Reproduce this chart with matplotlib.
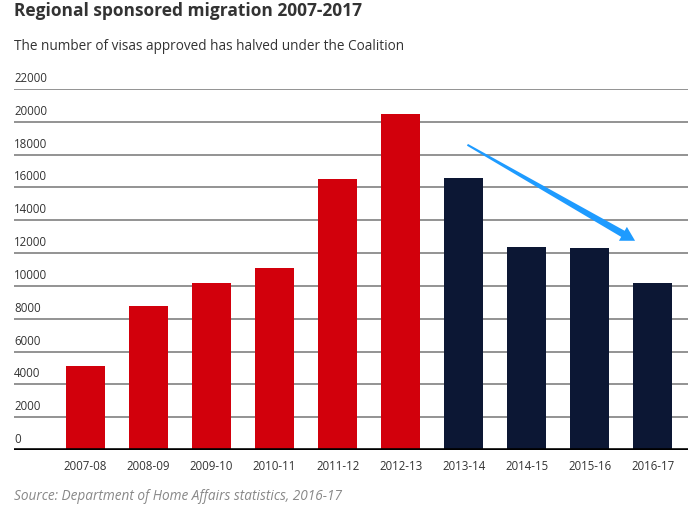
import numpy as np
import matplotlib.pyplot as plt
import matplotlib.transforms as mtransforms
from matplotlib.patches import Polygon

# Data
years = ['2007-08', '2008-09', '2009-10', '2010-11', '2011-12',
         '2012-13', '2013-14', '2014-15', '2015-16', '2016-17']
visas = [5100, 8800, 10200, 11100, 16500, 20500, 16550, 12400, 12300, 10200]
colors = ['#d2000c'] * 6 + ['#0c1734'] * 4
yticks = [0, 2000, 4000, 6000, 8000, 10000, 12000, 14000, 16000, 18000, 20000, 22000]

plt.rcParams['font.family'] = ['Open Sans', 'DejaVu Sans']

fig = plt.figure(figsize=(6.94, 5.15), dpi=100)
ax = fig.add_axes([14 / 694, 65 / 515, 674 / 694, 361 / 515])

x = list(range(len(years)))
ax.bar(x, visas, width=0.62, color=colors, zorder=3)

ax.set_xlim(-1.135, 9.56)
ax.set_ylim(0, 22000)

# grid lines with labels sitting above them
for v in yticks[1:]:
    ax.axhline(v, color='#808080', linewidth=1.2, zorder=1)
ax.axhline(0, color='black', linewidth=2.6, zorder=4)
trans = mtransforms.blended_transform_factory(ax.transAxes, ax.transData)
offset = mtransforms.offset_copy(trans, fig=fig, y=4, units='dots')
for v in yticks:
    ax.text(0, v, str(v), transform=offset, ha='left', va='bottom',
            fontsize=8.3, color='#333333')

ax.set_yticks([])
ax.set_xticks(x)
ax.set_xticklabels(years, fontsize=8.3, color='#333333')
ax.tick_params(axis='x', length=0, pad=7)
for s in ax.spines.values():
    s.set_visible(False)

# trend arrow: thin at the start, widening toward the head
start = ax.transData.transform((6.06, 18600))
tip = ax.transData.transform((8.72, 12750))
u = (tip - start) / np.hypot(*(tip - start))
n = np.array([-u[1], u[0]])
base = tip - u * 14
pts = [start + n * 1.0, base + n * 3.5, base + n * 8, tip,
       base - n * 8, base - n * 3.5, start - n * 1.0]
arrow = Polygon(pts, closed=True, facecolor='#1e9bff', edgecolor='none',
                transform=mtransforms.IdentityTransform(), zorder=5)
fig.add_artist(arrow)

fig.text(14 / 694, 1 - 11 / 515, 'Regional sponsored migration 2007-2017',
         fontsize=12.5, fontweight='bold', color='#333333', va='center', ha='left')
fig.text(14 / 694, 1 - 47 / 515, 'The number of visas approved has halved under the Coalition',
         fontsize=9.8, color='#333333', va='center', ha='left')
fig.text(14 / 694, 1 - 496 / 515, 'Source: Department of Home Affairs statistics, 2016-17',
         fontsize=9.8, style='italic', color='#888888', va='center', ha='left')

fig.savefig('out.png', dpi=100)
